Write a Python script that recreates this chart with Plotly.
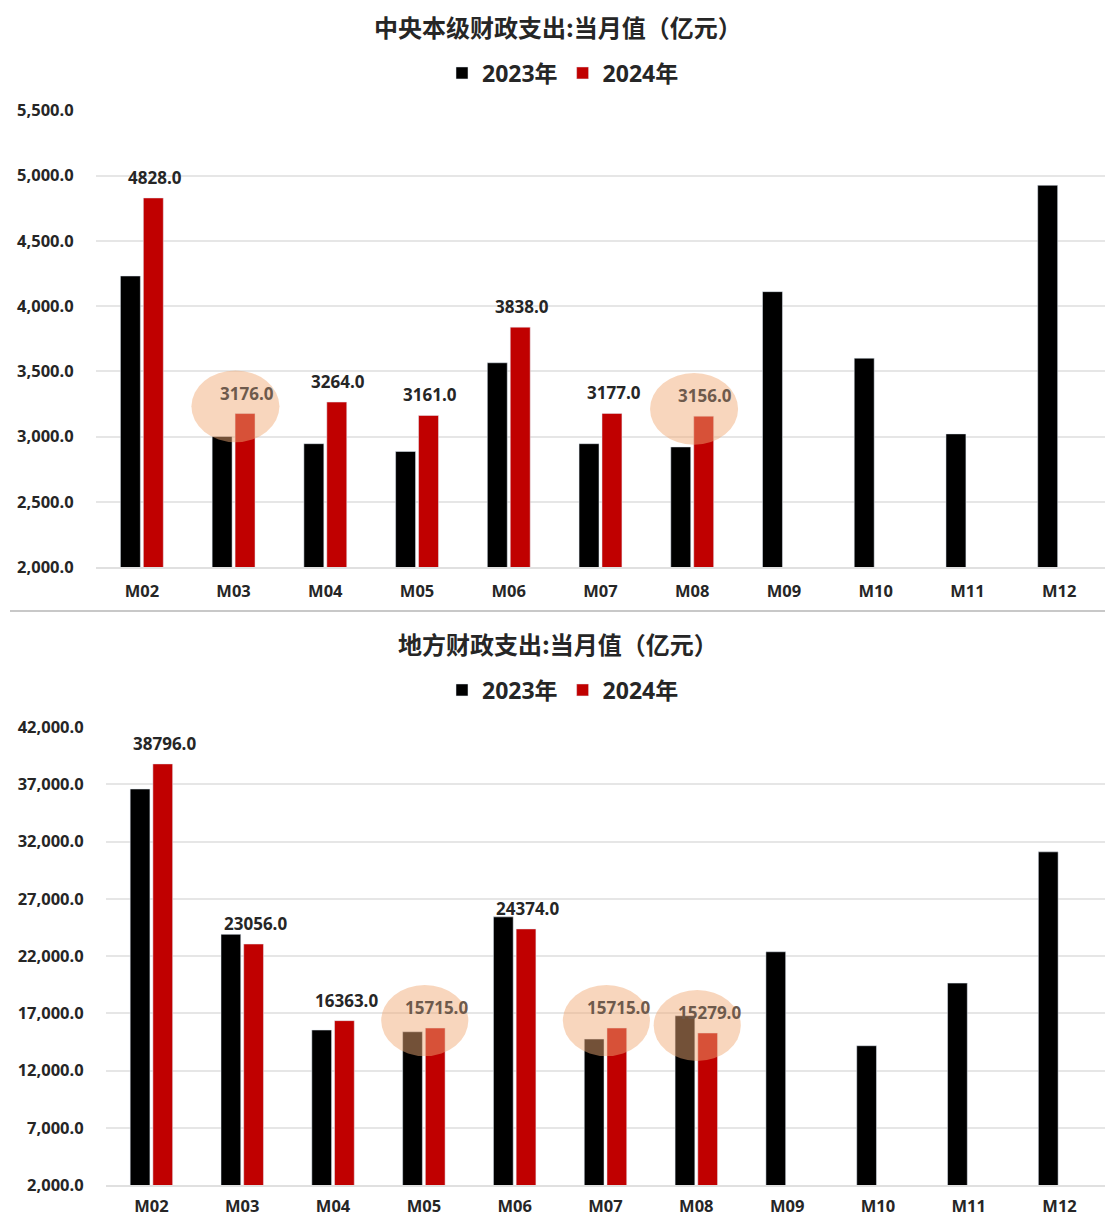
import plotly.graph_objects as go

months = ["M02", "M03", "M04", "M05", "M06", "M07", "M08", "M09", "M10", "M11", "M12"]
series_names = ["2023年", "2024年"]

central_2023 = [4230, 3000, 2945, 2885, 3565, 2945, 2920, 4110, 3600, 3020, 4925]
central_2024 = [4828, 3176, 3264, 3161, 3838, 3177, 3156, None, None, None, None]

local_2023 = [36600, 23900, 15540, 15390, 25430, 14750, 16790, 22380, 14170, 19640, 31110]
local_2024 = [38796, 23056, 16363, 15715, 24374, 15715, 15279, None, None, None, None]

central_title = "中央本级财政支出:当月值（亿元）"
local_title = "地方财政支出:当月值（亿元）"

central_highlight = ["M03", "M08"]
local_highlight = ["M05", "M07", "M08"]

BLACK = "#000000"
RED = "#C00000"
TXT = "#262626"
TXT_HL = "#6e5a4c"   # label colour seen through the translucent highlight
FONT = "Open Sans, Noto Sans CJK SC, sans-serif"
CJK = "Noto Sans CJK SC, sans-serif"
W, H = 1105, 1216

fig = go.Figure()

fig.add_trace(go.Bar(x=months, y=central_2023, name=series_names[0], marker_color=BLACK,
                     xaxis="x", yaxis="y", legend="legend"))
fig.add_trace(go.Bar(x=months, y=central_2024, name=series_names[1], marker_color=RED,
                     xaxis="x", yaxis="y", legend="legend"))
fig.add_trace(go.Bar(x=months, y=local_2023, name=series_names[0], marker_color=BLACK,
                     xaxis="x2", yaxis="y2", legend="legend2"))
fig.add_trace(go.Bar(x=months, y=local_2024, name=series_names[1], marker_color=RED,
                     xaxis="x2", yaxis="y2", legend="legend2"))


def px_y(p):
    return 1 - p / H


xaxis_common = dict(type="category", showgrid=False, showline=True, linecolor="#e0e0e0", linewidth=1.5,
                    ticks="outside", tickcolor="rgba(0,0,0,0)", automargin=False,
                    tickfont=dict(family=FONT, size=16.5, color=TXT, weight="bold"), fixedrange=True)
yaxis_common = dict(showgrid=True, gridcolor="#e6e6e6", gridwidth=1.5, zeroline=False, automargin=False,
                    tickformat=",.1f", ticks="outside", ticklen=18, tickcolor="rgba(0,0,0,0)",
                    tickfont=dict(family=FONT, size=16.5, color=TXT, weight="bold"), showline=False)

legend_common = dict(orientation="h", xanchor="center", yanchor="middle", itemwidth=30,
                     font=dict(family=FONT, size=23, color=TXT, weight="bold"),
                     bgcolor="rgba(0,0,0,0)")

fig.update_layout(
    width=W, height=H, margin=dict(l=0, r=0, t=0, b=0, autoexpand=False),
    paper_bgcolor="white", plot_bgcolor="white",
    barmode="group", bargap=0.5, bargroupgap=0.13,
    xaxis=dict(domain=[96 / W, 1.0], anchor="y", ticklen=8, **xaxis_common),
    yaxis=dict(domain=[px_y(567), px_y(110)], anchor="x", range=[2000, 5502], tick0=2000, dtick=500,
               **yaxis_common),
    xaxis2=dict(domain=[106 / W, 1.0], anchor="y2", ticklen=5, **xaxis_common),
    yaxis2=dict(domain=[px_y(1185), px_y(727)], anchor="x2", range=[2000, 42020], tick0=2000, dtick=5000,
                **yaxis_common),
    legend=dict(x=563 / W, y=px_y(73), **legend_common),
    legend2=dict(x=563 / W, y=px_y(690), **legend_common),
    showlegend=True,
)

fig.add_annotation(text=central_title, xref="paper", yref="paper", x=558 / W, y=px_y(26),
                   xanchor="center", yanchor="middle", showarrow=False,
                   font=dict(family=CJK, size=24, color=TXT, weight="bold"))
fig.add_annotation(text=local_title, xref="paper", yref="paper", x=558 / W, y=px_y(643),
                   xanchor="center", yanchor="middle", showarrow=False,
                   font=dict(family=CJK, size=24, color=TXT, weight="bold"))

# value labels above the 2024 bars (red bar sits right of the category centre)
def add_labels(values, highlight, xref, yref):
    for m, v in zip(months, values):
        if v is None:
            continue
        fig.add_annotation(x=m, y=v, xref=xref, yref=yref, text=f"{v:.1f}", showarrow=False,
                           xanchor="center", yanchor="bottom", xshift=13, yshift=7,
                           font=dict(family=FONT, size=17, weight="bold",
                                     color=TXT_HL if m in highlight else TXT))


add_labels(central_2024, central_highlight, "x", "y")
add_labels(local_2024, local_highlight, "x2", "y2")

# separator line between the two charts
fig.add_shape(type="line", xref="paper", yref="paper", x0=10 / W, x1=1.0, y0=px_y(611), y1=px_y(611),
              line=dict(color="#c8c8c8", width=2))

HL = "rgba(240,170,118,0.48)"
for m in central_highlight:
    i = months.index(m)
    v = central_2024[i]
    fig.add_shape(type="circle", xref="x", yref="y", x0=i - 0.46, x1=i + 0.50,
                  y0=v - 220, y1=v + 330, fillcolor=HL, line=dict(width=0), layer="above")
for m in local_highlight:
    i = months.index(m)
    v = local_2024[i]
    fig.add_shape(type="circle", xref="x2", yref="y2", x0=i - 0.47, x1=i + 0.49,
                  y0=v - 2450, y1=v + 3760, fillcolor=HL, line=dict(width=0), layer="above")

fig.write_html("out.html")
